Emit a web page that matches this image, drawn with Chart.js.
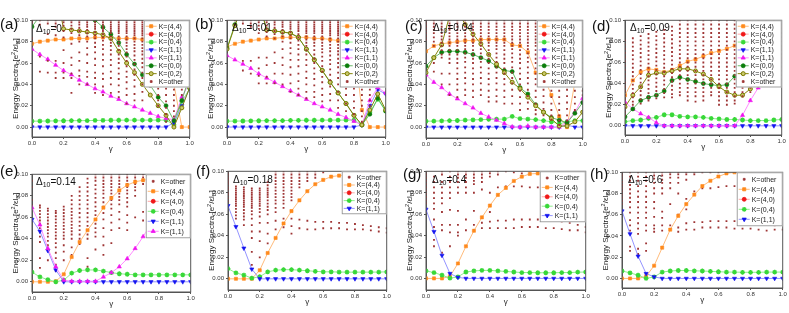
<!DOCTYPE html>
<html>
<head>
<meta charset="utf-8">
<script src="https://cdn.jsdelivr.net/npm/chart.js@4.4.1/dist/chart.umd.min.js"></script>
<style>
  body { margin: 0; background: #fff; font-family: "Liberation Sans", Arial, sans-serif; }
  #page { position: relative; width: 789px; height: 313px; overflow: hidden; }
  canvas { position: absolute; }
  .tag { position: absolute; font-size: 15px; line-height: 1; color: #111; }
  .delta { position: absolute; font-size: 10px; line-height: 1; color: #111; white-space: nowrap; }
  .delta span { font-size: 7px; position: relative; top: 2px; }
</style>
</head>
<body>
<div id="page"></div>
<script>
// energies are given in units of 1e-3 e^2/(eps l_B)
const GAMMA = [0, 0.05, 0.1, 0.15, 0.2, 0.25, 0.3, 0.35, 0.4, 0.45, 0.5, 0.55, 0.6, 0.65, 0.7, 0.75, 0.8, 0.85, 0.9, 0.95, 1.0];
const X_TICKS = [0, 0.2, 0.4, 0.6, 0.8, 1.0];
const Y_TICKS = [0, 0.02, 0.04, 0.06, 0.08, 0.10];
const DELTAS = ['0', '0.01', '0.04', '0.09', '0.14', '0.18', '0.4', '0.6'];

// K=(4,0) states lie above the plotted window in every panel
const k40_none = [];

// (a) Delta10 = 0
const k44_a = [78,80,81,82,82,83,83,83,84,84,84,83,83,83,82,82,81,79,40,0,0];
const k04_a = [5.5,5.6,5.7,5.8,5.9,6,6,6.1,6.2,6.3,6.4,6.4,6.5,6.5,6.5,6.5,6.5,6.5,2,24,36];
const k11b_a = [0,0,0,0,0,0,0,0,0,0,0,0,0,0,0,0,0,0,4,20,36];
const k11m_a = [73,68,63.5,58,53,49,44,40,36,33,29,26,22,19,16,13,10,8,7,28,42];
const k00_a = [94,104,112,115,115,114,112,108,100,93.5,87,79,68,59,49,39,28,20,6,25,48];
const k02_a = [112,118,120,130,92,91,90,89,88,86.5,83,71,60,51,40,30,20,11,0,18,37];
const other_a = [
  [100,98,83],
  [100,96,66,52],
  [100,97,87,62,51],
  [100,97,94,86,62,51,46],
  [100,98,95,90,84,72,60,51,46],
  [100,98,95,92,88,78,65,58,50,46,32],
  [100,98,96,93,90,86,80,70,62,53,48,40],
  [100,98,96,94,91,88,85,80,74,68,60,52,47,40],
  [100,98,96,94,92,89,86,83,79,75,70,64,58,51,46,40,32],
  [100,98,96,94,92,90,87,84,81,77,73,68,63,57,50,45,38,30],
  [100,98,96,94,92,90,88,85,82,79,76,72,68,63,58,52,46,40,32],
  [100,98,96,94,92,90,88,85,82,79,76,72,68,64,60,55,50,45,39,33,28],
  [100,98,96,94,92,90,88,85,82,79,76,73,70,66,62,57,52,47,42,36,30,22],
  [100,98,96,94,92,90,88,86,83,80,77,74,71,67,63,59,54,49,44,38,31,25],
  [100,98,96,94,92,90,88,86,83,80,77,74,71,68,64,60,56,51,46,40,33,25],
  [100,98,96,94,92,90,88,86,84,81,78,75,72,69,65,61,57,52,47,42,38],
  [100,98,96,94,92,90,88,86,84,81,78,75,72,69,65,61,57,52,47,42,36,30,25,20],
  [100,98,96,94,92,90,88,86,84,81,78,75,72,68,64,60,56,51,46,41,36,30,24,18,12,5],
  [100,98,96,94,92,90,88,86,84,81,78,75,72,68,64,60,55,50,45,40,35,30,25,20,15,10],
  [100,98,96,94,92,90,88,86,84,81,78,75,72,68,64,60,55,50,45,40,35,30],
  [100,98,96,94,92,90,88,86,84,81,78,75,72,68,64,60,55,50,45,40]
];

// (b) Delta10 = 0.01
const k44_b = [75,78,80,81,82,83,83,84,84,84,84,83,83,82,81,80,78,16,0,0,0];
const k04_b = [5.5,5.6,5.7,5.8,5.9,6,6,6.1,6.2,6.3,6.4,6.4,6.5,6.5,6.5,6.5,6.5,2,14,26,15];
const k11b_b = [0,0,0,0,0,0,0,0,0,0,0,0,0,0,0,0,0,2,20,35,31];
const k11m_b = [67,63,59,55,50,46,42,38,34,30,26,22,19,16,12,9,5.5,2,25,37,32];
const k00_b = [74,96,115,120,118,91,90,89,88,84,73,63,53,42,32,22,11,2,12,27,15];
const k02_b = [73,95,115,120,118,91,90,89,88,84,73,63,53,42,32,22,11,2,16,31,16];
const other_b = [
  [100],
  [100,96],
  [100,97,62,53],
  [100,97,94,62,50],
  [100,98,95,92,88,65,55,48,41],
  [100,98,95,92,89,85,65,58,47,41],
  [100,98,96,93,90,87,83,70,60,50,41],
  [100,98,96,94,91,88,85,80,73,65,58,50,40],
  [100,98,96,94,92,89,86,83,79,74,69,63,56,49,41,33],
  [100,98,96,94,92,90,87,84,81,77,73,68,63,57,50,43,36,30],
  [100,98,96,94,92,90,88,85,82,79,76,72,68,63,58,52,46,40,33,27],
  [100,98,96,94,92,90,88,85,82,79,76,72,68,64,60,55,50,45,39,33,28],
  [100,98,96,94,92,90,88,85,82,79,76,73,70,66,62,57,52,47,42,36,30,24],
  [100,98,96,94,92,90,88,86,83,80,77,74,71,67,63,59,54,49,44,38,31,25],
  [100,98,96,94,92,90,88,86,83,80,77,74,71,68,64,60,56,51,46,40,33,25,18],
  [100,98,96,94,92,90,88,86,84,81,78,75,72,69,65,61,57,52,47,42,36,30,22,15],
  [100,98,96,94,92,90,88,86,84,81,78,75,72,68,64,60,56,51,46,41,36,30,24,18,12],
  [100,98,96,94,92,90,88,86,84,81,78,75,72,68,64,60,55,50,45,40,35,30,25,20,15,10,5],
  [100,98,96,94,92,90,88,86,84,81,78,75,72,68,64,60,55,50,45,40,35,30,25,20],
  [100,98,96,94,92,90,88,86,84,81,78,75,72,68,64,60,55,50,45,40],
  [100,98,96,94,92,90,88,86,84,81,78,75,72,68,64,60,55,50,45,40]
];

// (c) Delta10 = 0.04
const k44_c = [71,76,78,79,80,81,81,82,82,82,82,77,76,70,51,48,30,10,0,42,78];
const k04_c = [5.5,5.6,5.8,6,6.2,6.5,6.8,7,7.2,7.4,7.5,10,8,7.5,7,6,5,3,5,6,6];
const k11b_c = [0,0,0,0,0,0,0,0,0,0,0,0,0,0,0,0,0,0,2,0,0];
const k11m_c = [49,42,37,31,26.5,22,18,13,9.5,6.5,3.4,0.3,0,1,0,0,0,0,5,14,27];
const k00_c = [57,65,70,71,71,70,68,65,62,57,53,52,37,31,21,14,9,6.5,4,13,23];
const k02_c = [51,65,77,104,110,96,87,78,68,59,51,42,36,28,20,14,8,1,1,5,14];
const other_c = [
  [100,97,94,91,88,85,82],
  [100,97,94,91,88,84,80,76,60,52],
  [100,97,94,91,88,85,82,79,76,72,68,65,50,40],
  [100,97,94,91,88,85,82,79,76,72,68,64,60,50,40,30],
  [100,97,94,91,88,85,82,79,76,72,68,64,60,55,50,45,40,35,28],
  [100,97,94,91,88,85,82,79,76,73,69,65,61,56,51,46,41,35,30],
  [100,97,94,91,88,85,82,79,76,72,68,64,60,55,50,45,40,34,28],
  [100,97,94,91,88,85,82,79,76,73,69,65,61,56,51,46,41,35,30],
  [100,97,94,91,88,85,82,79,76,72,68,64,60,55,50,45,40,34,28,24],
  [100,97,94,91,88,85,82,79,76,73,69,65,61,56,51,46,41,35,29,24],
  [100,97,94,91,88,85,82,79,76,72,68,64,60,55,50,45,40,34,28,22],
  [100,97,94,91,88,85,82,79,76,73,69,65,61,56,51,46,41,35,29,22],
  [100,97,94,91,88,85,82,79,76,72,68,64,60,55,50,45,40,34,28,22,16],
  [100,97,94,91,88,85,82,79,76,73,69,65,61,56,51,46,41,35,29,23,17],
  [100,97,94,91,88,85,82,79,76,72,68,64,60,55,50,45,40,34,28,22,16,12],
  [100,97,94,91,88,85,82,79,76,73,69,65,61,56,51,46,41,35,29,23,17,11],
  [100,97,94,91,88,85,82,79,76,72,68,64,60,55,50,45,40,34,28,22,16,11,7],
  [100,97,94,91,88,85,82,79,76,72,68,64,60,55,50,45,40,34,28,22,16,11,6,2],
  [100,97,94,91,88,85,82,79,76,73,69,65,61,56,51,46,41,35,29,23,17,11,6],
  [100,97,94,91,88,85,82,79,76,72,68,64,60,55,50,45,40,34,28,22,16],
  [100,97,94,91,88,85,82,79,76,72,68,64,60,55,50,45,40,34,30]
];

// (d) Delta10 = 0.09
const k44_d = [29,43,51,54,53,51,53,57,61,63,66,69,71,73,76,79,82,84,87,90,93];
const k04_d = [4,5,5.5,7,8,10.5,10.5,9,8.5,8.5,8,7,6.5,6,6,5.5,5,5,5,5.5,6];
const k11b_d = [0,0,0,0,0,0,0,0,0,0,0,0,0,0,0,0,0,0,0,0,0];
const k11m_d = [22.5,16,11.5,8,3,0,0,0,0,0,0,0,0,0,0,10,24,36,46,55,63];
const k00_d = [8.5,16,24,27,29,33,43,46,44,42,40,39,38,39,47,49,52,55,59,66,74];
const k02_d = [18,29,37,48,50,50,52,54,54,52,49,44,37,32,29,29,35,43,51,58,66];
const other_d = [
  [81,77,73,69,65,61,57,53,49,45,41,37,33,29,25,21,17,13,10],
  [83,79,75,71,67,63,59,55,51,47,43,39,35,31,27,23,20],
  [85,81,77,73,69,65,61,57,53,49,45,41,37,33,29,25,21],
  [87,83,79,75,71,67,63,59,55,51,47,43,39,35,31,27,24],
  [89,85,81,77,73,69,65,61,57,53,49,45,41,37,33,29,26],
  [91,87,83,79,75,71,67,63,59,55,51,47,43,39,35,31,27],
  [94,90,86,82,78,74,70,66,62,58,54,50,46,42,38,34,30,27],
  [100,96,92,88,84,80,76,72,68,64,60,56,52,48,44,40,36,32,29],
  [100,96,92,88,84,80,76,72,68,64,60,56,52,48,44,40,36,32,28,24],
  [100,96,92,88,84,80,76,72,68,64,60,56,52,48,44,40,36,32,28,23],
  [100,96,92,88,84,80,76,72,68,64,60,56,52,48,44,40,36,32,28,24],
  [100,96,92,88,84,80,76,72,68,64,60,56,52,48,44,40,36,32,29],
  [100,96,92,88,84,80,76,72,68,64,60,56,52,48,44,40,36,32,28,24,20],
  [100,96,92,88,84,80,76,72,68,64,60,56,52,48,44,40,36,32,28,24,20],
  [100,96,92,88,84,80,76,72,68,64,60,56,52,48,44,40,36,32,28,24,21],
  [100,96,92,88,84,80,76,72,68,64,60,56,52,48,44,40,36,32,28],
  [100,96,92,88,84,80,76,72,68,64,60,56,52,48,44,40,36,32],
  [100,96,92,88,84,80,76,72,68,64,60,56,52,48,44,40,37],
  [100,96,92,88,84,80,76,72,68,64,60,56,52,48,44,40],
  [100,96,92,88,84,80,76,72,68,64,60,56,52,48,44,41],
  [100,96,92,88,84,80,76,72,68,64,60,56,52,48,44]
];

// (e) Delta10 = 0.14
const k44_e = [0,0,0,0.5,7,23,37,48,58,69,78,85,90,93,94.5,95.5,96,95,92,85,74];
const k04_e = [9,4.5,2,0,1.5,8,10.5,11,11,10,8.5,7.5,7,6.5,6.5,6.5,6.5,6.5,6.5,6.5,6.5];
const k11b_e = [58,47,29,11,0,0,0,0,0,0,0,0,0,0,0,0,0,0,0,0,0];
const k11m_e = [69,53,31,14,1.5,0.5,0.5,0.5,0.5,4.5,8.5,14,21.5,31,42,54,66,77,87,95,102];
const other_e = [
  [94,88,76,71],
  [71,69,66,63,60,57,54,50,46,42,37,22,13],
  [68,66,63,60,57,54,51,48,45,42,38,34,30,20],
  [66,64,61,58,55,52,49,46,43,40,36,32,27,22,16,10],
  [70,67,64,61,58,55,52,49,46,43,40,34,28,20],
  [80,76,72,68,65,62,59,56,53,50,47,44,40,32,25],
  [88,84,80,76,72,68,64,60,56,52,48,44,40,35],
  [96,92,88,84,80,76,72,68,64,60,56,52,48,44,40,22,14],
  [100,97,94,90,86,82,78,74,70,66,62,58,54,50,46,42,30],
  [100,97,94,91,88,85,82,78,74,70,64,58,50,42,34,25],
  [100,97,94,91,88,85,82,79,76,72,68,62,55,48,36],
  [100,97,94,91,88,85,82,79,76,72,65,58,50],
  [100,97,94,91,88,85,82,78,74,70,62,55,48],
  [100,97,94,91,88,85,80,60],
  [100,97,94,91,65,57],
  [100,97,94,62,55],
  [56,52],
  [55,50],
  [54,48],
  [53,47],
  [52,46]
];

// (f) Delta10 = 0.18
const k44_f = [0,0,0,0,8,24,38,51.5,63,73,81.5,88,92,95,96,96.5,96,94,90,83,74];
const k04_f = [9.5,5.5,3.5,0.6,2,6.5,8,8.5,8.5,8,7.5,7,6.5,6.5,6.3,6.2,6.2,6.2,6.2,6.3,6.5];
const k11b_f = [68,48.5,28.5,9,0,0,0,0,0,0,0,0,0,0,0,0,0,0,0,0,0];
const other_f = [
  [100,97,94,92,90,88,85,83,80,78,75,72],
  [86,84,82,80,78,76,74,72,70,68,65,62,59,56],
  [85,83,81,79,77,75,73,71,69,67,64,61,58,55,50],
  [84,82,80,78,76,74,72,70,68,66,63,60,56,50,44,38,25,13],
  [84,82,80,78,76,74,72,70,68,65,62,58,52,44,35,20],
  [90,87,84,82,80,78,76,73,70,67,64,60,52,42,33],
  [100,97,94,91,88,85,82,79,76,73,70,66,62,54,46],
  [100,97,94,91,88,85,82,79,76,73,70,66,56,48],
  [100,97,94,91,88,85,82,79,76,73,56,49,42],
  [100,97,94,91,88,85,55,47],
  [100,97,94,91,54,46],
  [100,97,94,53,46],
  [99,53,47],
  [53,47],
  [52,47],
  [52,46],
  [51,46],
  [50,46],
  [49,45],
  [48,44],
  [47,43]
];

// (g) Delta10 = 0.4
const k44_g = [0,0,0,2,14,30,44.5,57,68,78,84.5,91,95,97.5,98,98,97,94,90,83,74];
const k04_g = [7,5.5,3,0.2,1.5,6,7,7.5,7.5,7,6.5,6,5.5,5.5,5.3,5.3,5.3,5.5,5.5,5.8,6];
const k11b_g = [64.5,43.7,21.5,4.6,1,0,0,0,0,0,0,0,0,0,0,0,0,0,0,0,0];
const other_g = [
  [100,97,94,91,88,85,82,79,76,73,70],
  [95,90,85,80,75,70,65,55,48,36,30],
  [100,97,90,85,80,75,70,62,50,45,24],
  [100,95,90,85,80,75,64,50,43,30],
  [100,97,94,90,85,80,63,50,43,40],
  [100,97,94,90,85,80,55,45],
  [100,97,94,91,88,80,63,50,45],
  [100,97,94,90,83,52,47],
  [100,98,95,80,62,53,47],
  [100,97,85,54,47],
  [100,86,54,47],
  [99,86,55,47],
  [98,86,55,48],
  [98,85,55,48],
  [85,55,48],
  [84,54,47],
  [83,54,47],
  [82,53,46],
  [81,52,45],
  [80,50,45],
  [48,43]
];

// (h) Delta10 = 0.6
const k44_h = [0,0,0,2,12,29,46,59,70,79,87,92,96,99,100,100,99,96,91,84,75];
const k04_h = [7,5.3,3,0,1.5,6,7,7.5,7.5,7.2,7,6.7,6.3,6,6,5.8,5.8,5.8,6,6,6];
const k11b_h = [63.5,42,21,4.6,1.5,0,0,0,0,0,0,0,0,0,0,0,0,0,0,0,0];
const other_h = [
  [100,97,94,91,88,85,82,79,76,73,70],
  [100,96,92,88,84,80,76,72,67,62,55,50,45,30,26],
  [100,96,92,87,82,77,72,67,62,57,52,47,42,28,23],
  [100,96,92,87,82,77,72,67,62,57,50,45,33,26],
  [100,97,94,90,85,80,72,66,58,50,47,44],
  [100,97,93,90,85,80,63,57,50,45],
  [100,98,95,90,85,70,50,46],
  [100,98,95,90,80,60,48,44],
  [100,98,93,75,65,52,46],
  [100,98,82,53,46],
  [100,85,53,48],
  [100,85,54,48],
  [100,86,54,48],
  [99,87,54,48],
  [87,54,47],
  [86,54,47],
  [85,53,47],
  [83,52,46],
  [81,52,45],
  [50,46],
  [46]
];

const SERIES = {
  a: {k44: k44_a, k40: k40_none, k04: k04_a, k11b: k11b_a, k11m: k11m_a, k00: k00_a, k02: k02_a, other: other_a},
  b: {k44: k44_b, k40: k40_none, k04: k04_b, k11b: k11b_b, k11m: k11m_b, k00: k00_b, k02: k02_b, other: other_b},
  c: {k44: k44_c, k40: k40_none, k04: k04_c, k11b: k11b_c, k11m: k11m_c, k00: k00_c, k02: k02_c, other: other_c},
  d: {k44: k44_d, k40: k40_none, k04: k04_d, k11b: k11b_d, k11m: k11m_d, k00: k00_d, k02: k02_d, other: other_d},
  e: {other: other_e, k44: k44_e, k40: k40_none, k04: k04_e, k11b: k11b_e, k11m: k11m_e},
  f: {other: other_f, k44: k44_f, k40: k40_none, k04: k04_f, k11b: k11b_f},
  g: {other: other_g, k44: k44_g, k40: k40_none, k04: k04_g, k11b: k11b_g},
  h: {other: other_h, k44: k44_h, k40: k40_none, k04: k04_h, k11b: k11b_h}
};

// marker / line look of every K sector
const STY = {
  k44:  {label: 'K=(4,4)', color: '#ff8a1c', line: 'rgba(255,175,100,0.85)', style: 'rect', r: 2.2},
  k40:  {label: 'K=(4,0)', color: '#f01818', line: 'rgba(255,130,130,0.7)', style: 'circle', r: 2},
  k04:  {label: 'K=(0,4)', color: '#38d838', line: 'rgba(130,235,130,0.9)', style: 'star', r: 2.4, bw: 1.3},
  k11b: {label: 'K=(1,1)', color: '#1414f0', line: 'rgba(120,120,255,0.8)', style: 'triangle', rot: 180, r: 2.4},
  k11m: {label: 'K=(1,1)', color: '#f014f0', line: 'rgba(255,120,255,0.85)', style: 'triangle', r: 2.4},
  k00:  {label: 'K=(0,0)', color: '#0b7d0b', line: 'rgba(70,170,70,0.8)', style: 'circle', r: 2},
  k02:  {label: 'K=(0,2)', color: '#7a7a00', fill: '#c9c96a', line: 'rgba(128,128,0,0.95)', style: 'circle', r: 2, bw: 1},
  other:{label: 'K=other', color: '#9e3434', style: 'rect', r: 1.3}
};

const PANELS = [
  {id: 'a', L: 32,  T: 19,  R: 191, B: 137, yMin: -0.0093, tx: 0,   ty: 16,  dx: 36,  dy: 24,  legRow: 7.9, legW: 46},
  {id: 'b', L: 227, T: 19,  R: 387, B: 137, yMin: -0.0093, tx: 195, ty: 16,  dx: 232, dy: 23,  legRow: 7.9, legW: 46},
  {id: 'c', L: 426, T: 19,  R: 584, B: 138, yMin: -0.0102, tx: 405, ty: 18,  dx: 433, dy: 23,  legRow: 7.9, legW: 46},
  {id: 'd', L: 625, T: 19,  R: 783, B: 135, yMin: -0.0087, tx: 592, ty: 18,  dx: 630, dy: 23,  legRow: 7.9, legW: 46},
  {id: 'e', L: 32,  T: 173, R: 192, B: 292, yMin: -0.0095, tx: 0,   ty: 163, dx: 36,  dy: 177, legRow: 10,  legW: 45},
  {id: 'f', L: 228, T: 170, R: 388, B: 290, yMin: -0.0104, tx: 196, ty: 163, dx: 233, dy: 175, legRow: 7.8, legW: 45},
  {id: 'g', L: 426, T: 170, R: 587, B: 290, yMin: -0.0108, tx: 403, ty: 166, dx: 432, dy: 175, legRow: 9.4, legW: 46},
  {id: 'h', L: 622, T: 171, R: 784, B: 288, yMin: -0.009,  tx: 590, ty: 166, dx: 628, dy: 175, legRow: 10,  legW: 46}
];

Chart.defaults.font.family = '"Liberation Sans", Arial, sans-serif';

const framePlugin = {
  id: 'frame',
  afterDatasetsDraw(chart) {
    const {ctx, chartArea: a} = chart;
    ctx.save();
    ctx.strokeStyle = '#555';
    ctx.lineWidth = 1;
    ctx.strokeRect(a.left, a.top, a.right - a.left, a.bottom - a.top);
    ctx.restore();
  }
};

const boxLegend = {
  id: 'boxLegend',
  afterDraw(chart, args, opts) {
    const {ctx, chartArea: a} = chart;
    const w = opts.width, h = opts.keys.length * opts.rowH + 4;
    const x0 = a.right - w, y0 = a.top;
    ctx.save();
    ctx.fillStyle = '#fff';
    ctx.fillRect(x0, y0, w, h);
    ctx.strokeStyle = '#8a8a8a';
    ctx.lineWidth = 0.8;
    ctx.strokeRect(x0 + 0.5, y0 + 0.5, w - 1, h - 1);
    ctx.font = '7px "Liberation Sans", Arial, sans-serif';
    ctx.textBaseline = 'middle';
    opts.keys.forEach((k, i) => {
      const s = STY[k];
      const cy = y0 + 2 + opts.rowH * (i + 0.5);
      if (s.line) {
        ctx.strokeStyle = s.line;
        ctx.lineWidth = 1;
        ctx.beginPath();
        ctx.moveTo(x0 + 2, cy);
        ctx.lineTo(x0 + 13, cy);
        ctx.stroke();
      }
      ctx.fillStyle = s.fill || s.color;
      ctx.strokeStyle = s.color;
      ctx.lineWidth = s.bw || 0.8;
      Chart.helpers.drawPoint(ctx, {pointStyle: s.style, radius: s.r, rotation: s.rot || 0, borderWidth: s.bw || 0.8}, x0 + 7.5, cy);
      ctx.fillStyle = '#222';
      ctx.fillText(s.label, x0 + 15, cy + 0.5);
    });
    ctx.restore();
  }
};

// vertical axis title with superscript and subscript
const yTitle = {
  id: 'yTitle',
  afterDraw(chart) {
    const {ctx, chartArea: a} = chart;
    const parts = [['Energy Spectra [e', 8, 0], ['2', 5.5, -3], ['/\u03b5l', 8, 0], ['B', 5.5, 2], [']', 8, 0]];
    ctx.save();
    ctx.translate(a.left - 17, (a.top + a.bottom) / 2);
    ctx.rotate(-Math.PI / 2);
    ctx.fillStyle = '#222';
    ctx.textBaseline = 'alphabetic';
    let total = 0;
    parts.forEach(p => { ctx.font = p[1] + 'px "Liberation Sans", Arial, sans-serif'; total += ctx.measureText(p[0]).width; });
    let x = -total / 2;
    parts.forEach(p => {
      ctx.font = p[1] + 'px "Liberation Sans", Arial, sans-serif';
      ctx.fillText(p[0], x, 3 + p[2]);
      x += ctx.measureText(p[0]).width;
    });
    ctx.restore();
  }
};

function lineSet(key, vals, order) {
  const s = STY[key];
  return {
    label: s.label,
    showLine: true,
    data: vals.map((v, i) => ({x: GAMMA[i], y: v / 1000})),
    borderColor: s.line,
    borderWidth: 1,
    pointStyle: s.style,
    pointRadius: s.r,
    pointRotation: s.rot || 0,
    pointBackgroundColor: s.fill || s.color,
    pointBorderColor: s.color,
    pointBorderWidth: s.bw || 0.6,
    order: order
  };
}

function otherSet(cols, order) {
  const s = STY.other;
  return {
    label: s.label,
    showLine: false,
    data: cols.flatMap((col, i) => col.map(v => ({x: GAMMA[i], y: v / 1000}))),
    pointStyle: s.style,
    pointRadius: s.r,
    pointBackgroundColor: s.color,
    pointBorderColor: s.color,
    pointBorderWidth: 0,
    order: order
  };
}

const page = document.getElementById('page');

PANELS.forEach((p, idx) => {
  const canvas = document.createElement('canvas');
  canvas.width = p.R - p.L + 36;
  canvas.height = p.B - p.T + 22;
  canvas.style.left = (p.L - 32) + 'px';
  canvas.style.top = (p.T - 4) + 'px';
  page.appendChild(canvas);

  const tag = document.createElement('div');
  tag.className = 'tag';
  tag.style.left = p.tx + 'px';
  tag.style.top = p.ty + 'px';
  tag.textContent = '(' + p.id + ')';
  page.appendChild(tag);

  const dl = document.createElement('div');
  dl.className = 'delta';
  dl.style.left = p.dx + 'px';
  dl.style.top = p.dy + 'px';
  dl.innerHTML = '\u0394<span>10</span>=' + DELTAS[idx];
  page.appendChild(dl);

  const set = SERIES[p.id];
  const keys = Object.keys(set);
  const n = keys.length;
  const datasets = keys.map((k, i) => k === 'other' ? otherSet(set[k], n - i) : lineSet(k, set[k], n - i));

  new Chart(canvas.getContext('2d'), {
    type: 'scatter',
    data: {datasets: datasets},
    options: {
      responsive: false,
      animation: false,
      devicePixelRatio: 1,
      layout: {padding: {left: 0, right: 4, top: 4, bottom: 0}},
      plugins: {
        legend: {display: false},
        tooltip: {enabled: false},
        boxLegend: {keys: keys, rowH: p.legRow, width: p.legW}
      },
      scales: {
        x: {
          type: 'linear', min: 0, max: 1,
          afterBuildTicks: s => { s.ticks = X_TICKS.map(v => ({value: v})); },
          afterFit: s => { s.height = 18; s.paddingLeft = 0; s.paddingRight = 0; },
          ticks: {callback: v => v.toFixed(1), font: {size: 6}, color: '#333', padding: 1, maxRotation: 0, autoSkip: false},
          grid: {display: true, drawOnChartArea: false, tickLength: 2, color: '#555'},
          border: {color: '#555'},
          title: {display: true, text: '\u03b3', font: {size: 8}, color: '#222', padding: {top: 0, bottom: 1}}
        },
        y: {
          type: 'linear', min: p.yMin, max: 0.1,
          afterBuildTicks: s => { s.ticks = Y_TICKS.map(v => ({value: v})); },
          afterFit: s => { s.width = 32; s.paddingTop = 0; s.paddingBottom = 0; },
          ticks: {callback: v => v.toFixed(2), font: {size: 6}, color: '#333', padding: 2, autoSkip: false},
          grid: {display: true, drawOnChartArea: false, tickLength: 2, color: '#555'},
          border: {color: '#555'}
        }
      }
    },
    plugins: [framePlugin, boxLegend, yTitle]
  });
});
</script>
</body>
</html>
